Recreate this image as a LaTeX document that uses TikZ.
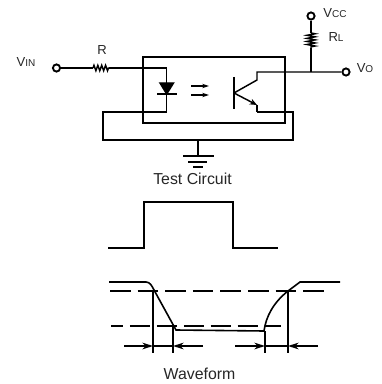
\documentclass[tikz,border=0pt]{standalone}
\usepackage{fontspec}
\setmainfont{Liberation Sans}
\usetikzlibrary{arrows.meta, decorations.pathmorphing}
\newcommand{\mainsize}{\fontsize{11.9pt}{13pt}\selectfont}
\newcommand{\symsize}{\fontsize{9.8pt}{11pt}\selectfont}
\newcommand{\subsize}{\fontsize{7.5pt}{9pt}\selectfont}

\begin{document}
\begin{tikzpicture}[x=0.75pt, y=-0.75pt, line width=1.1pt,
  terminal/.style={circle, draw, fill=white, line width=1.4pt, minimum size=5.4pt, inner sep=0pt},
  label/.style={text=black!85, inner sep=0pt},
  resH/.style={decorate, decoration={zigzag, segment length=2.9pt, amplitude=2pt}},
  resV/.style={decorate, decoration={zigzag, segment length=2.3pt, amplitude=3pt}},
  dashA/.style={dash pattern=on 15.5pt off 5.2pt},
  dashB/.style={dash pattern=on 15pt off 5.2pt, dash phase=6pt},
  tip/.style={-{Stealth[length=8pt, width=5pt]}},
  smalltip/.style={line width=0.9pt, -{Stealth[length=5pt, width=3.2pt]}}]
\useasboundingbox (0,0) rectangle (381,384);
% Terminals
\node[terminal] (Vin) at (56.5,68) {};
\node[terminal] (Vcc) at (311,16) {};
\node[terminal] (Vo) at (346,72) {};
% Labels
\node[label] (LVin) at (26,62) {\symsize V\subsize IN};
\node[label] (LR) at (102,50) {\symsize R};
\node[label] (LVcc) at (335,13) {\symsize V\subsize CC};
\node[label] (LRL) at (336,37) {\symsize R\subsize L};
\node[label] (LVo) at (365,68) {\symsize V\subsize O};
\node[label] (LTest) at (192.5,179) {\mainsize Test Circuit};
\node[label] (LWave) at (199.5,374) {\mainsize Waveform};
% Opto package
\node[draw, minimum width=106.5pt, minimum height=49.5pt, inner sep=0pt, line width=1.1pt] (Box) at (214,90) {};
% Input side
\coordinate (Ra) at (93,68);
\coordinate (Rb) at (109,68);
\coordinate (Dtop) at (166.7,83);
\coordinate (Dbot) at (166.7,94);
\coordinate (Lback) at (103,112);
\draw (Vin) -- (Ra);
\draw[resH] (Ra) -- (Rb);
\draw (Rb) -| (Dtop);
\draw[fill=black] (160,83) -- (173.5,83) -- (Dbot) -- cycle;
\draw (157,94) -- (177,94);
% Return loop and ground
\coordinate (Gnd) at (198,156);
\coordinate (Gtop) at (198,140);
\coordinate (Emb) at (257,112);
\draw (Dbot) -- (166.7,112) -- (Lback) -- (103,140) -- (293,140) -- (293,112) -- (Emb);
\draw (Gtop) -- (Gnd);
\draw (183,156) -- (214,156);
\draw (188,162) -- (207,162);
\draw (193,167) -- (203,167);
% Light arrows
\draw[smalltip] (191,86) -- (209,86);
\draw[smalltip] (191,95) -- (209,95);
% Transistor
\coordinate (Base) at (234,93);
\coordinate (Cup) at (257,80);
\coordinate (Eup) at (257,105);
\coordinate (Jn) at (311,72);
\draw (234,77) -- (234,109);
\draw (Base) -- (Cup) -- (257,72) -- (Vo);
\draw[-{Stealth[length=5.5pt, width=4.5pt]}] (Base) -- (Eup);
\draw (Eup) -- (Emb);
% Load resistor
\coordinate (RLa) at (311,33);
\coordinate (RLb) at (311,48);
\draw (Vcc) -- (RLa);
\draw[resV] (RLa) -- (RLb);
\draw (RLb) -- (Jn);
% Input pulse
\draw (108,248) -- (144,248) -- (144,202) -- (233,202) -- (233,248) -- (278,248);
% Output waveform
\draw[line width=1.2pt] (109,282) -- (146,282) .. controls (150,282) and (152,286) .. (154,290) -- (176,330) -- (264,331) .. controls (266,316) and (274,302) .. (288,291) -- (300,282) -- (340,282);
\draw[dashA] (110,291) -- (325,291);
\draw[dashB] (111,326) -- (281,326);
% Time marks
\coordinate (Ta) at (153,291);
\coordinate (Tb) at (173,326);
\coordinate (Tc) at (265,331);
\coordinate (Td) at (288,291);
\coordinate (Ta2) at (153,353);
\coordinate (Tb2) at (173,353);
\coordinate (Tc2) at (265,353);
\coordinate (Td2) at (288,353);
\draw (Ta) -- (Ta2);
\draw (Tb) -- (Tb2);
\draw (Tc) -- (Tc2);
\draw (Td) -- (Td2);
\draw[tip] (124,346) -- (153,346);
\draw (153,346) -- (173,346);
\draw[tip] (203,346) -- (173,346);
\draw[tip] (235,346) -- (265,346);
\draw (265,346) -- (288,346);
\draw[tip] (318,346) -- (288,346);
\end{tikzpicture}
\end{document}
